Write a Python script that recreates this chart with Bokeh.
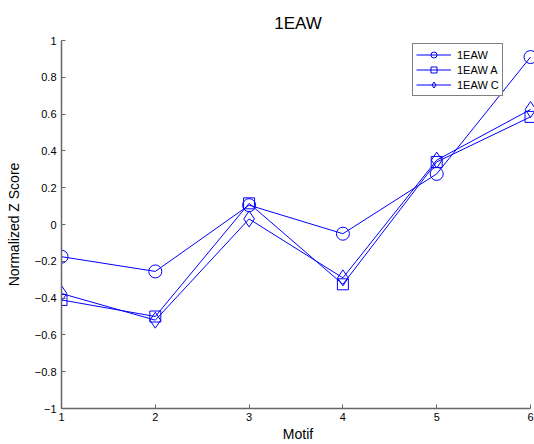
from bokeh.plotting import figure
from bokeh.models import Range1d, FixedTicker, CustomJSTickFormatter
from bokeh.embed import file_html
from bokeh.resources import INLINE

motifs = [1, 2, 3, 4, 5, 6]
z_1eaw = [-0.175, -0.255, 0.105, -0.05, 0.275, 0.91]
z_1eaw_a = [-0.41, -0.50, 0.115, -0.325, 0.34, 0.585]
z_1eaw_c = [-0.375, -0.52, 0.03, -0.29, 0.35, 0.625]
x_ticks = [1, 2, 3, 4, 5, 6]
y_ticks = [-1, -0.8, -0.6, -0.4, -0.2, 0, 0.2, 0.4, 0.6, 0.8, 1]

FONT = "Liberation Sans"
BLUE = "#0000ff"

p = figure(width=534, height=444, output_backend="svg", toolbar_location=None,
           x_range=Range1d(1, 6 + 4 / 94.0), y_range=Range1d(-1, 1),
           min_border_left=61, min_border_right=0, min_border_top=40, min_border_bottom=36,
           title="1EAW")
p.title.align = "center"
p.title.text_font = FONT
p.title.text_font_size = "17px"
p.title.text_font_style = "normal"
p.title.text_color = "black"
p.title.standoff = 15

p.outline_line_color = None
p.xgrid.visible = False
p.ygrid.visible = False

for ax in (p.xaxis[0], p.yaxis[0]):
    ax.axis_line_color = "#666666"
    ax.axis_line_width = 1.5
    ax.major_tick_line_color = "#666666"
    ax.major_tick_in = 4
    ax.major_tick_out = 0
    ax.minor_tick_line_color = None
    ax.major_label_text_font = FONT
    ax.major_label_text_font_size = "11px"
    ax.major_label_text_color = "black"
    ax.axis_label_text_font = FONT
    ax.axis_label_text_font_size = "14px"
    ax.axis_label_text_font_style = "normal"
    ax.axis_label_text_color = "black"

p.xaxis.ticker = FixedTicker(ticks=x_ticks)
p.yaxis.ticker = FixedTicker(ticks=y_ticks)
p.xaxis.bounds = (1, 6)
fmt = CustomJSTickFormatter(code="var s = (Math.round(tick*10)/10).toString(); return s.replace('-', '\u2212');")
p.yaxis.formatter = fmt
p.xaxis.axis_label = "Motif"
p.yaxis.axis_label = "Normalized Z Score"
p.xaxis.major_label_standoff = 4
p.yaxis.major_label_standoff = 5
p.xaxis.axis_label_standoff = 2
p.yaxis.axis_label_standoff = 10

series = [
    ("1EAW", z_1eaw, "circle", 13),
    ("1EAW A", z_1eaw_a, "square", 11),
    ("1EAW C", z_1eaw_c, "diamond", 16),
]
for label, ys, marker, size in series:
    p.line(motifs, ys, line_color=BLUE, line_width=1, legend_label=label)
    p.scatter(motifs, ys, marker=marker, size=size, fill_color=None,
              line_color=BLUE, line_width=1, legend_label=label)

lg = p.legend[0]
lg.location = (351, 312)
lg.border_line_color = "black"
lg.border_line_width = 1
lg.background_fill_color = "white"
lg.background_fill_alpha = 1
lg.label_text_font = FONT
lg.label_text_font_size = "11px"
lg.label_text_color = "black"
lg.glyph_width = 35
lg.glyph_height = 15
lg.label_height = 15
lg.label_standoff = 6
lg.spacing = 0
lg.padding = 3
lg.margin = 0

open("out.html", "w").write(file_html(p, INLINE))
